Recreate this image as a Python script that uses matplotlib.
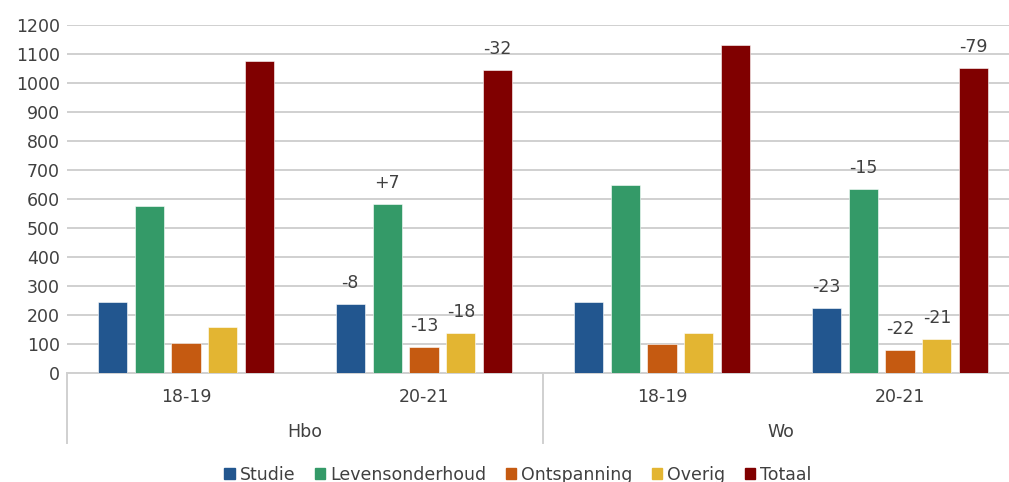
import matplotlib.pyplot as plt
from matplotlib.lines import Line2D
import matplotlib.transforms as mtransforms

plt.rcParams['font.family'] = ['DejaVu Sans']

# data
categories = ['18-19', '20-21', '18-19', '20-21']
groups = ['Hbo', 'Wo']
series = ['Studie', 'Levensonderhoud', 'Ontspanning', 'Overig', 'Totaal']
studie = [245, 237, 246, 223]
levensonderhoud = [575, 582, 648, 633]
ontspanning = [103, 90, 101, 79]
overig = [157, 139, 139, 118]
totaal = [1077, 1045, 1132, 1053]
changes = {
    'Studie': ['', '-8', '', '-23'],
    'Levensonderhoud': ['', '+7', '', '-15'],
    'Ontspanning': ['', '-13', '', '-22'],
    'Overig': ['', '-18', '', '-21'],
    'Totaal': ['', '-32', '', '-79'],
}
values = [studie, levensonderhoud, ontspanning, overig, totaal]
colors = ['#22568f', '#349a68', '#c55a11', '#e3b532', '#800000']
txt = '#404040'
fs = 12.5

W, H = 1009, 482
fig = plt.figure(figsize=(W / 100, H / 100), dpi=100)
ax = fig.add_axes([67 / W, 109 / H, 952 / W, 348 / H])

x = list(range(len(categories)))
pitch, width = 0.155, 0.122
for i, (name, vals, col) in enumerate(zip(series, values, colors)):
    xs = [xi + (i - 2) * pitch for xi in x]
    bars = ax.bar(xs, vals, width, color=col, edgecolor='white', linewidth=0.4, label=name, zorder=3)
    for b, lab in zip(bars, changes[name]):
        if lab:
            ax.annotate(lab, (b.get_x() + b.get_width() / 2, b.get_height()),
                        xytext=(0, 21), textcoords='offset pixels',
                        ha='center', va='center', fontsize=fs, color=txt)

ax.set_xlim(-0.5, len(categories) - 0.5)
ax.set_ylim(0, 1200)
ax.set_yticks(range(0, 1201, 100))
ax.yaxis.grid(True, color='#d0d0d0', linewidth=1.4, zorder=0)
ax.set_axisbelow(True)
for s in ['top', 'right', 'left']:
    ax.spines[s].set_visible(False)
ax.spines['bottom'].set_color('#d0d0d0')
ax.spines['bottom'].set_linewidth(1.4)
ax.tick_params(axis='y', length=0, labelsize=fs, labelcolor=txt, pad=5)
ax.set_xticks(x)
ax.set_xticklabels(categories)
ax.tick_params(axis='x', length=0, labelsize=fs, labelcolor=txt, pad=11)

# hierarchical axis: group labels and separators
trans = mtransforms.blended_transform_factory(ax.transData, ax.transAxes)
for k, g in enumerate(groups):
    ax.text(2 * k + 0.5, -0.17, g, transform=trans, ha='center', va='center',
            fontsize=fs, color=txt)
for xb in [-0.5, 1.5, 3.5]:
    ax.add_line(Line2D([xb, xb], [0, -0.2], transform=trans, color='#d0d0d0',
                       linewidth=1.4, clip_on=False))

handles = [plt.Rectangle((0, 0), 1, 1, color=c) for c in colors]
fig.legend(handles, series, loc='center', bbox_to_anchor=(518 / W, 7 / H),
           ncol=5, frameon=False, fontsize=fs, handlelength=0.6, handleheight=0.6,
           handletextpad=0.3, columnspacing=1.1, labelcolor=txt)

fig.savefig('out.png', dpi=100)
